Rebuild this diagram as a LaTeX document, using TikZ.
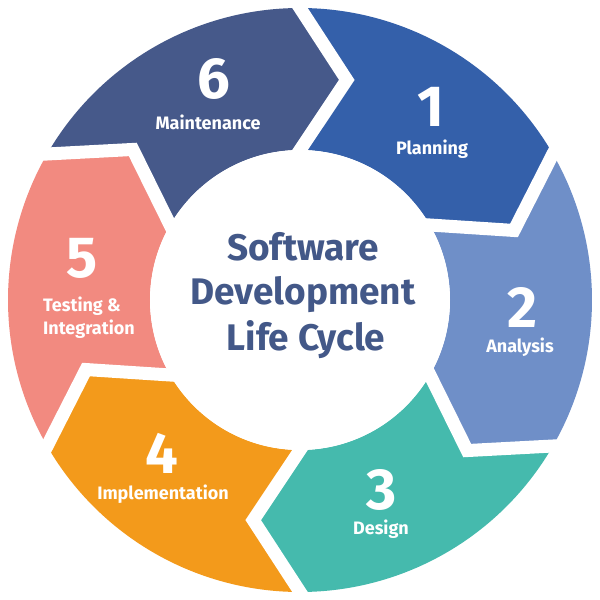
\documentclass[tikz,border=0pt]{standalone}
\usepackage{fontspec}
\setmainfont{Fira Sans}
\usetikzlibrary{calc}
\definecolor{cMaint}{HTML}{46598A}
\definecolor{cPlan}{HTML}{3460AA}
\definecolor{cAna}{HTML}{6F8FC8}
\definecolor{cDes}{HTML}{45BAAD}
\definecolor{cImp}{HTML}{F39A1B}
\definecolor{cTest}{HTML}{F28A80}
\definecolor{cTitle}{HTML}{435888}
\tikzset{
  gapline/.style={draw=white, line width=13pt, line join=miter},
  numtxt/.style={text=white, font=\bfseries\fontsize{58}{58}\selectfont, anchor=base, inner sep=0pt},
  lbltxt/.style={text=white, font=\bfseries\fontsize{18}{18}\selectfont, anchor=base, inner sep=0pt},
  ttltxt/.style={text=cTitle, font=\bfseries\fontsize{37}{37}\selectfont, anchor=base, inner sep=0pt}
}
\begin{document}
\begin{tikzpicture}[x=1pt,y=1pt]
\fill[white] (-300,-300) rectangle (300,300);
\useasboundingbox (-300,-300) rectangle (300,300);
\def\Ro{292}\def\Ri{150}\def\Rm{225}\def\dl{12}
% segments (clockwise arrows)
\foreach \s/\c in {90/cPlan,30/cAna,-30/cDes,-90/cImp,-150/cTest,150/cMaint} {
  \pgfmathsetmacro\e{\s-60}
  \pgfmathsetmacro\te{\e-\dl}
  \pgfmathsetmacro\ts{\s-\dl}
  \fill[\c] (\s:\Ro) arc[start angle=\s, end angle=\e, radius=\Ro]
     -- (\te:\Rm) -- (\e:\Ri) arc[start angle=\e, end angle=\s, radius=\Ri]
     -- (\ts:\Rm) -- cycle;
}
% white gaps between segments
\foreach \b in {90,30,-30,-90,-150,150} {
  \pgfmathsetmacro\t{\b-\dl}
  \coordinate (go) at (\b:\Ro);
  \coordinate (gi) at (\b:\Ri);
  \coordinate (gt) at (\t:\Rm);
  \draw[gapline] ($(gt)!1.3!(gi)$) -- (gt) -- ($(gt)!1.1!(go)$);
}
% centre
\fill[white] (0,0) circle[radius=\Ri];
\node[ttltxt] (t1) at (3,40) {Software};
\node[ttltxt] (t2) at (3,-4) {Development};
\node[ttltxt] (t3) at (6,-50) {Life Cycle};
% labels
\node[numtxt] (n6) at (-86,201) {6};
\node[lbltxt] (l6) at (-92,170) {Maintenance};
\node[numtxt] (n1) at (131,173) {1};
\node[lbltxt] (l1) at (132,145) {Planning};
\node[numtxt] (n2) at (222,-27) {2};
\node[lbltxt] (l2) at (220,-52) {Analysis};
\node[numtxt] (n3) at (82,-209) {3};
\node[lbltxt] (l3) at (81,-234) {Design};
\node[numtxt] (n4) at (-138,-173) {4};
\node[lbltxt] (l4) at (-137,-199) {Implementation};
\node[numtxt] (n5) at (-218,23) {5};
\node[lbltxt, anchor=base west] (l5a) at (-257,-11.5) {Testing \&};
\node[lbltxt, anchor=base west] (l5b) at (-257,-34) {Integration};
\end{tikzpicture}
\end{document}
